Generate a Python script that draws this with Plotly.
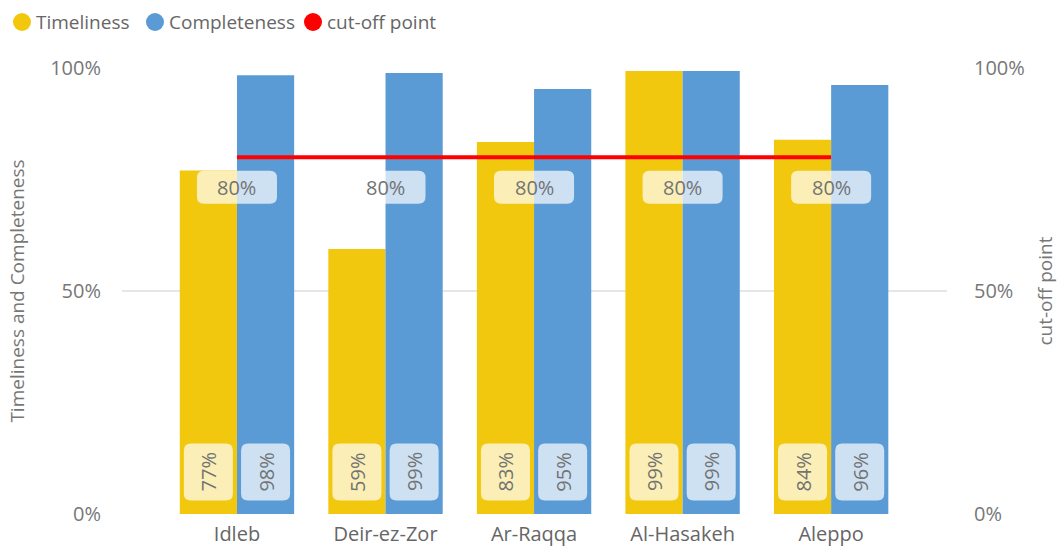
import plotly.graph_objects as go

categories = ["Idleb", "Deir-ez-Zor", "Ar-Raqqa", "Al-Hasakeh", "Aleppo"]
timeliness = [0.77, 0.594, 0.834, 0.993, 0.839]
completeness = [0.984, 0.989, 0.953, 0.993, 0.962]
cutoff = [0.80, 0.80, 0.80, 0.80, 0.80]
y_ticks = [0, 0.5, 1.0]
y_ticktext = ["0%", "50%", "100%"]
series_names = ["Timeliness", "Completeness", "cut-off point"]

YELLOW = "#F2C80F"
BLUE = "#5B9BD5"
RED = "#FF0000"
GRAY = "#777777"
FONT = "Open Sans"

# layout geometry (pixels)
W, H = 1059, 547
ML, MR, MT, MB = 122, 112, 68, 33
XMIN, XMAX = -0.774, 4.78
PW = W - ML - MR
px_per_x = PW / (XMAX - XMIN)
px_per_y = (H - MT - MB) / 1.0
BARGAP = 0.23
half = (1 - BARGAP) / 4  # offset of each bar centre from category centre

xs = list(range(len(categories)))

fig = go.Figure()
fig.add_trace(go.Bar(x=xs, y=timeliness, name=series_names[0], marker_color=YELLOW,
                     marker_line_width=0, showlegend=False))
fig.add_trace(go.Bar(x=xs, y=completeness, name=series_names[1], marker_color=BLUE,
                     marker_line_width=0, showlegend=False))
fig.add_trace(go.Scatter(x=xs, y=cutoff, name=series_names[2], mode="lines",
                         line=dict(color=RED, width=4), yaxis="y2", showlegend=False))


def rrect(xc, yc, wpx, hpx, rpx=7):
    w = wpx / px_per_x / 2
    h = hpx / px_per_y / 2
    rx = rpx / px_per_x
    ry = rpx / px_per_y
    x0, x1, y0, y1 = xc - w, xc + w, yc - h, yc + h
    return (f"M {x0+rx},{y0} L {x1-rx},{y0} Q {x1},{y0} {x1},{y0+ry} "
            f"L {x1},{y1-ry} Q {x1},{y1} {x1-rx},{y1} L {x0+rx},{y1} "
            f"Q {x0},{y1} {x0},{y1-ry} L {x0},{y0+ry} Q {x0},{y0} {x0+rx},{y0} Z")


shapes = []
annotations = []
BOX_FILL = "rgba(255,255,255,0.7)"
LABEL_GRAY = "#737373"
# bottom data labels
ylab = 42 / px_per_y  # label centre height above baseline
for i, (t, c) in enumerate(zip(timeliness, completeness)):
    for xc, v in [(i - half, t), (i + half, c)]:
        shapes.append(dict(type="path", path=rrect(xc, ylab, 49, 57), xref="x", yref="y",
                           fillcolor=BOX_FILL, line=dict(width=0), layer="above"))
        annotations.append(dict(x=xc, y=ylab, xref="x", yref="y", text=f"{round(v*100):.0f}%",
                                showarrow=False, textangle=-90,
                                font=dict(family=FONT, size=20, color=LABEL_GRAY)))
# cut-off labels
for i, v in enumerate(cutoff):
    yc = v - 30 / px_per_y
    shapes.append(dict(type="path", path=rrect(i, yc, 80, 33), xref="x", yref="y",
                       fillcolor=BOX_FILL, line=dict(width=0), layer="above"))
    annotations.append(dict(x=i, y=yc, xref="x", yref="y", text=f"{round(v*100):.0f}%",
                            showarrow=False, font=dict(family=FONT, size=20, color=LABEL_GRAY)))

# manual legend (circle symbol + label), positioned in pixels
legend_x = [22, 155, 313]
legend_cols = [YELLOW, BLUE, RED]
for lx, nm, col in zip(legend_x, series_names, legend_cols):
    shapes.append(dict(type="circle", xref="paper", yref="paper", xsizemode="pixel",
                       ysizemode="pixel", xanchor=(lx - ML) / PW, yanchor=(H - MB - 22) / (H - MT - MB),
                       x0=-9, x1=9, y0=-9, y1=9, fillcolor=col, line=dict(width=0)))
    annotations.append(dict(x=(lx + 12 - ML) / PW, y=(H - MB - 22) / (H - MT - MB),
                            xref="paper", yref="paper", xanchor="left", yanchor="middle",
                            text=nm, showarrow=False,
                            font=dict(family=FONT, size=19, color="#666666")))

fig.update_layout(
    width=W, height=H,
    margin=dict(l=ML, r=MR, t=MT, b=MB),
    paper_bgcolor="white", plot_bgcolor="white",
    barmode="group", bargap=BARGAP, bargroupgap=0,
    font=dict(family=FONT, color=GRAY),
    shapes=shapes, annotations=annotations,
    showlegend=False,
    xaxis=dict(range=[XMIN, XMAX], tickvals=xs, ticktext=categories, showgrid=False,
               zeroline=False, showline=False, ticks="", automargin=False,
               ticklabelstandoff=6,
               tickfont=dict(size=20, color="#666666")),
    yaxis=dict(range=[0, 1], tickvals=y_ticks, ticktext=y_ticktext, showgrid=True,
               gridcolor="#E6E6E6", gridwidth=1.5, zeroline=False, automargin=False,
               tickfont=dict(size=20, color=GRAY), ticklabelstandoff=20,
               title=dict(text="Timeliness and Completeness", font=dict(size=19, color=GRAY),
                          standoff=20)),
    yaxis2=dict(range=[0, 1], tickvals=y_ticks, ticktext=y_ticktext, overlaying="y",
                side="right", showgrid=False, zeroline=False, automargin=False,
                tickfont=dict(size=20, color=GRAY), ticklabelstandoff=26,
                title=dict(text="cut-off point", font=dict(size=19, color=GRAY), standoff=14)),
)

fig.write_html("out.html")
